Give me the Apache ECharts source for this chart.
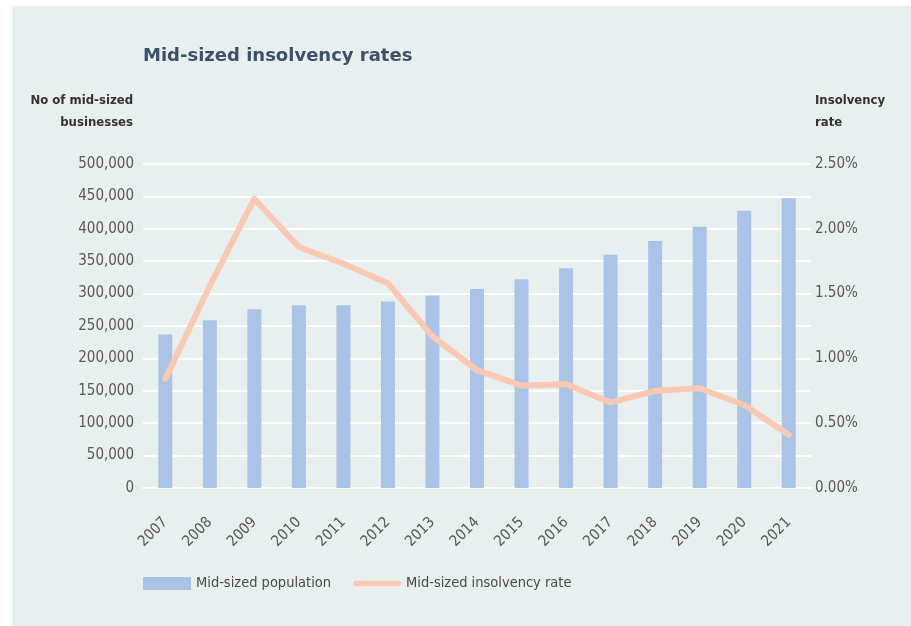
<!DOCTYPE html>
<html>
<head>
<meta charset="utf-8">
<title>Mid-sized insolvency rates</title>
<script src="https://cdn.jsdelivr.net/npm/echarts@6/dist/echarts.min.js"></script>
<style>
  html, body { margin: 0; padding: 0; background: #ffffff; }
  #chart { width: 911px; height: 626px; }
</style>
</head>
<body>
<div id="chart"></div>
<script>
// Years on the category axis
const years = ['2007', '2008', '2009', '2010', '2011', '2012', '2013', '2014',
               '2015', '2016', '2017', '2018', '2019', '2020', '2021'];

// Number of mid-sized businesses (left axis)
const population = [237000, 259000, 276000, 282000, 282000, 288000, 297000, 307000,
                    322000, 339000, 360000, 381000, 403000, 428000, 447000];

// Mid-sized insolvency rate, in percent (right axis)
const insolvencyRate = [0.84, 1.56, 2.23, 1.86, 1.73, 1.58, 1.17, 0.91,
                        0.79, 0.80, 0.66, 0.75, 0.77, 0.64, 0.41];

// Axis tick settings
const leftMax = 500000, leftStep = 50000;
const rightMax = 2.5, rightStep = 0.5;

const labelFont = '"Liberation Sans Narrow", "DejaVu Sans Condensed", "Liberation Sans", sans-serif';
const gridWhite = '#ffffff';
const rateColor = '#fbc8b4';

const chart = echarts.init(document.getElementById('chart'), null, { renderer: 'canvas' });

chart.setOption({
  animation: false,
  backgroundColor: '#ffffff',
  graphic: [{
    type: 'rect',
    left: 12, top: 6,
    shape: { width: 899, height: 620 },
    style: { fill: '#e7f0ee' },
    z: -10
  }],
  title: {
    text: 'Mid-sized insolvency rates',
    left: 143, top: 47,
    padding: 0,
    textStyle: {
      fontFamily: '"DejaVu Sans", "Open Sans", sans-serif',
      fontWeight: 700,
      fontSize: 18,
      color: '#3d5067'
    }
  },
  legend: {
    left: 143, top: 576,
    padding: 0,
    itemWidth: 48, itemHeight: 13,
    itemGap: 22,
    textStyle: { fontFamily: labelFont, fontSize: 14.5, color: '#4a4a4a' },
    data: [
      { name: 'Mid-sized population', icon: 'rect' },
      {
        name: 'Mid-sized insolvency rate',
        icon: 'path://M3,0 L49,0 A3,3 0 0 1 49,6 L3,6 A3,3 0 0 1 3,0 Z'
      }
    ]
  },
  grid: { left: 143, right: 100, top: 164, bottom: 138, containLabel: false },
  xAxis: {
    type: 'category',
    data: years,
    axisLine: { show: true, lineStyle: { color: gridWhite, width: 2 } },
    axisTick: { show: false },
    axisLabel: {
      rotate: 45,
      margin: 32,
      fontFamily: labelFont,
      fontSize: 15,
      color: '#595959'
    }
  },
  yAxis: [{
    type: 'value',
    min: 0, max: leftMax, interval: leftStep,
    name: 'No of mid-sized\nbusinesses',
    nameLocation: 'end',
    nameGap: 30,
    nameTextStyle: {
      align: 'right',
      verticalAlign: 'bottom',
      fontFamily: labelFont,
      fontWeight: 700,
      fontSize: 13,
      lineHeight: 22,
      color: '#333333',
      padding: [0, 10, 0, 0]
    },
    axisLine: { show: false },
    axisTick: { show: false },
    splitLine: { lineStyle: { color: gridWhite, width: 2 } },
    axisLabel: {
      margin: 9,
      fontFamily: labelFont,
      fontSize: 15,
      color: '#595959',
      formatter: v => v.toLocaleString('en-US')
    }
  }, {
    type: 'value',
    min: 0, max: rightMax, interval: rightStep,
    name: 'Insolvency\nrate',
    nameLocation: 'end',
    nameGap: 30,
    nameTextStyle: {
      align: 'left',
      verticalAlign: 'bottom',
      fontFamily: labelFont,
      fontWeight: 700,
      fontSize: 13,
      lineHeight: 22,
      color: '#333333',
      padding: [0, 0, 0, 4]
    },
    axisLine: { show: false },
    axisTick: { show: false },
    splitLine: { show: false },
    axisLabel: {
      margin: 4,
      fontFamily: labelFont,
      fontSize: 15,
      color: '#595959',
      formatter: v => v.toFixed(2) + '%'
    }
  }],
  series: [{
    name: 'Mid-sized population',
    type: 'bar',
    yAxisIndex: 0,
    data: population,
    barWidth: 14,
    itemStyle: { color: '#abc3e6' }
  }, {
    name: 'Mid-sized insolvency rate',
    type: 'line',
    yAxisIndex: 1,
    data: insolvencyRate,
    symbol: 'none',
    lineStyle: { color: rateColor, width: 6, cap: 'round', join: 'round' },
    itemStyle: { color: rateColor },
    z: 3
  }]
});
</script>
</body>
</html>
